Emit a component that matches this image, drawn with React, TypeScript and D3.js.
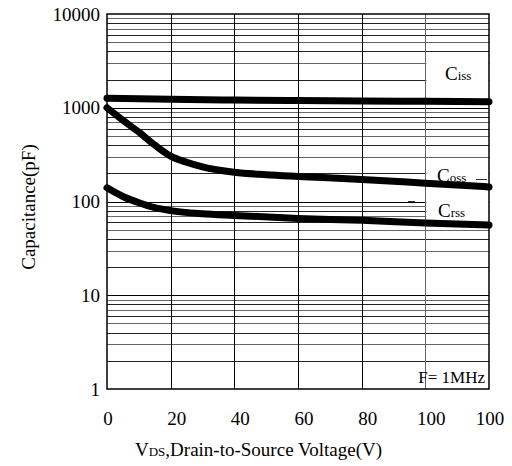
import React, { useEffect, useRef } from 'react';
import * as d3 from 'd3';

// x tick values and their printed labels (the last label really is "100" in the source)
const xTicks = [0, 20, 40, 60, 80, 100, 120];
const xTickLabels = ['0', '20', '40', '60', '80', '100', '100'];
const yTicks = [1, 10, 100, 1000, 10000];

const cissV = [0, 20, 40, 60, 80, 100, 120];
const cissC = [1265, 1230, 1210, 1195, 1180, 1170, 1160];

const cossV = [0, 5, 10, 15, 20, 25, 30, 40, 50, 60, 80, 100, 120];
const cossC = [1000, 735, 550, 400, 305, 262, 234, 205, 193, 185, 172, 157, 143];

const crssV = [0, 5, 10, 15, 20, 30, 40, 60, 80, 100, 120];
const crssC = [140, 113, 97, 86, 80, 74, 71, 66, 63, 59, 56];

const FONT = '"Liberation Serif", "Times New Roman", serif';

const App = () => {
  const svgRef = useRef<SVGSVGElement>(null);

  useEffect(() => {
    const width = 512;
    const height = 466;
    const margin = { top: 14, right: 23, bottom: 77, left: 107 };
    const innerWidth = width - margin.left - margin.right;
    const innerHeight = height - margin.top - margin.bottom;

    const svg = d3.select(svgRef.current);
    svg.selectAll('*').remove();
    svg.attr('width', width).attr('height', height);

    const g = svg.append('g').attr('transform', `translate(${margin.left},${margin.top})`);

    const x = d3.scaleLinear().domain([0, 120]).range([0, innerWidth]);
    const y = d3.scaleLog().domain([1, 10000]).range([innerHeight, 0]);

    // horizontal grid: minor lines lighter, decades darker
    const minor: number[] = [];
    for (let d = 1; d < 10000; d *= 10) {
      for (let k = 2; k <= 9; k++) minor.push(d * k);
    }
    g.selectAll('.hminor')
      .data(minor)
      .enter()
      .append('line')
      .attr('x1', 0)
      .attr('x2', innerWidth)
      .attr('y1', (d) => Math.round(y(d)) + 0.5)
      .attr('y2', (d) => Math.round(y(d)) + 0.5)
      .attr('stroke', (d, i) => (i % 2 ? '#666' : '#222'))
      .attr('stroke-width', 1);

    g.selectAll('.hmajor')
      .data(yTicks.slice(1, -1))
      .enter()
      .append('line')
      .attr('x1', 0)
      .attr('x2', innerWidth)
      .attr('y1', (d) => Math.round(y(d)) + 0.5)
      .attr('y2', (d) => Math.round(y(d)) + 0.5)
      .attr('stroke', '#000');

    // vertical grid
    g.selectAll('.vgrid')
      .data(xTicks.slice(1, -1))
      .enter()
      .append('line')
      .attr('x1', (d) => Math.round(x(d)) + 0.5)
      .attr('x2', (d) => Math.round(x(d)) + 0.5)
      .attr('y1', 0)
      .attr('y2', innerHeight)
      .attr('stroke', (d) => (d === 100 ? '#666' : '#000'));

    // white patches behind the labels in the last column
    const patches = [
      [55, 83],
      [163, 181],
      [196, 222],
      [366, 389],
    ];
    g.selectAll('.patch')
      .data(patches)
      .enter()
      .append('rect')
      .attr('x', x(100) + 1)
      .attr('y', (d) => d[0] - margin.top)
      .attr('width', innerWidth - x(100) - 1.5)
      .attr('height', (d) => d[1] - d[0])
      .attr('fill', '#fff');

    // stray dashes seen in the original
    g.append('line').attr('x1', 369).attr('x2', 380).attr('y1', 165.5).attr('y2', 165.5).attr('stroke', '#333');
    g.append('line').attr('x1', 301).attr('x2', 308).attr('y1', 187.5).attr('y2', 187.5).attr('stroke', '#333');

    // frame
    g.append('rect')
      .attr('width', innerWidth)
      .attr('height', innerHeight)
      .attr('fill', 'none')
      .attr('stroke', '#000')
      .attr('stroke-width', 1.5);

    // curves
    const line = d3
      .line<[number, number]>()
      .x((d) => x(d[0]))
      .y((d) => y(d[1]))
      .curve(d3.curveMonotoneX);

    const series = [
      d3.zip(cissV, cissC),
      d3.zip(cossV, cossC),
      d3.zip(crssV, crssC),
    ] as [number, number][][];

    g.selectAll('.curve')
      .data(series)
      .enter()
      .append('path')
      .attr('d', (d) => line(d))
      .attr('fill', 'none')
      .attr('stroke', '#000')
      .attr('stroke-width', 7)
      .attr('stroke-linecap', 'round')
      .attr('stroke-linejoin', 'round');

    // curve labels
    const labels = [
      { main: 'C', sub: 'iss', x: 338, y: 80 - margin.top },
      { main: 'C', sub: 'oss', x: 330, y: 182 - margin.top },
      { main: 'C', sub: 'rss', x: 331, y: 217 - margin.top },
    ];
    labels.forEach((l) => {
      const t = g
        .append('text')
        .attr('x', l.x)
        .attr('y', l.y)
        .attr('font-family', FONT)
        .attr('fill', '#000');
      t.append('tspan').attr('font-size', 19).text(l.main);
      t.append('tspan').attr('font-size', 13).text(l.sub);
    });

    g.append('text')
      .attr('x', innerWidth - 4)
      .attr('y', innerHeight - 6)
      .attr('text-anchor', 'end')
      .attr('font-family', FONT)
      .attr('font-size', 17)
      .text('F= 1MHz');

    // x tick labels
    g.selectAll('.xlab')
      .data(xTicks)
      .enter()
      .append('text')
      .attr('x', (d, i) => x(d) + (i === 0 || i === xTicks.length - 1 ? 1 : 6))
      .attr('y', innerHeight + 36)
      .attr('text-anchor', 'middle')
      .attr('font-family', FONT)
      .attr('font-size', 19)
      .text((d, i) => xTickLabels[i]);

    // y tick labels
    g.selectAll('.ylab')
      .data(yTicks)
      .enter()
      .append('text')
      .attr('x', -7)
      .attr('y', (d) => y(d) + 6.5)
      .attr('text-anchor', 'end')
      .attr('font-family', FONT)
      .attr('font-size', 19)
      .text((d) => String(d));

    // axis titles
    const xt = svg
      .append('text')
      .attr('x', 135)
      .attr('y', 456)
      .attr('font-family', FONT)
      .attr('font-size', 19);
    xt.append('tspan').text('V');
    xt.append('tspan').attr('font-size', 13).text('DS');
    xt.append('tspan').text(',Drain-to-Source Voltage(V)');

    svg
      .append('text')
      .attr('transform', 'translate(35,207) rotate(-90)')
      .attr('text-anchor', 'middle')
      .attr('font-family', FONT)
      .attr('font-size', 19)
      .text('Capacitance(pF)');
  }, []);

  return (
    <svg
      ref={svgRef}
      style={{ position: 'absolute', left: 0, top: 0, background: '#fff' }}
    ></svg>
  );
};

export default App;
